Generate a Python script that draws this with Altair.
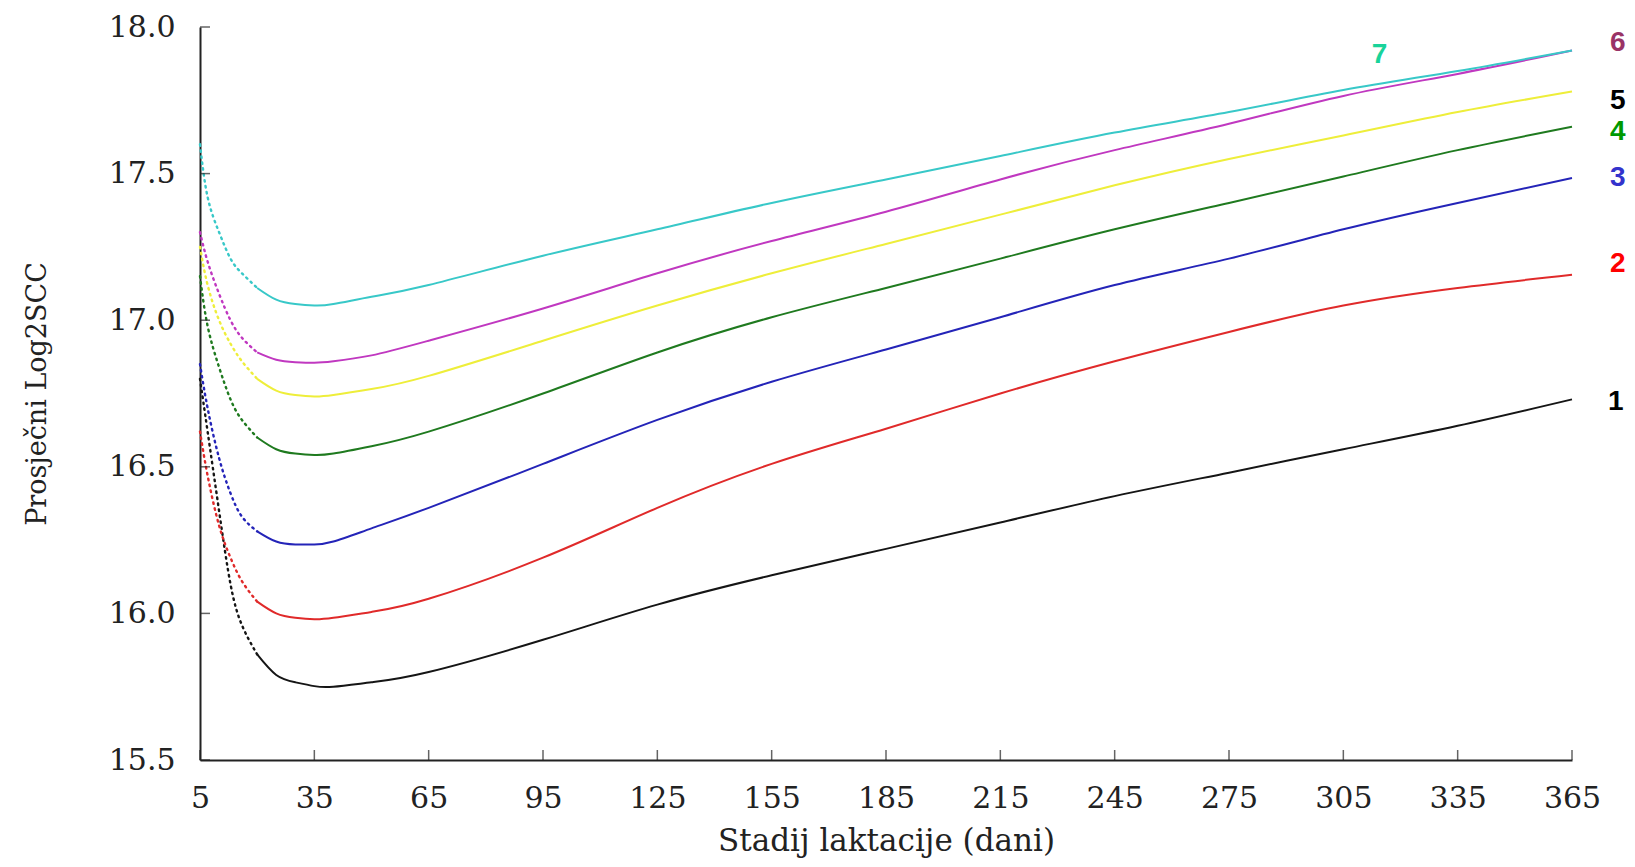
import altair as alt
import pandas as pd

# ---- data ----
days = [5, 7, 10, 13, 16, 20, 25, 30, 35, 40, 50, 65, 95, 125, 155, 185, 215, 245, 275, 305, 335, 365]

s1 = [16.80, 16.62, 16.35, 16.10, 15.96, 15.86, 15.79, 15.765, 15.752, 15.75, 15.765, 15.80, 15.91, 16.03, 16.13, 16.22, 16.31, 16.40, 16.48, 16.56, 16.64, 16.73]
s2 = [16.62, 16.47, 16.30, 16.19, 16.11, 16.04, 16.00, 15.985, 15.98, 15.985, 16.005, 16.05, 16.19, 16.36, 16.51, 16.63, 16.75, 16.86, 16.96, 17.05, 17.11, 17.155]
s3 = [16.85, 16.70, 16.53, 16.41, 16.33, 16.28, 16.245, 16.235, 16.235, 16.245, 16.29, 16.36, 16.51, 16.66, 16.79, 16.90, 17.01, 17.12, 17.21, 17.31, 17.40, 17.485]
s4 = [17.15, 16.98, 16.84, 16.73, 16.66, 16.60, 16.56, 16.545, 16.54, 16.545, 16.57, 16.62, 16.75, 16.89, 17.01, 17.11, 17.21, 17.31, 17.40, 17.49, 17.58, 17.66]
s5 = [17.25, 17.12, 17.00, 16.92, 16.86, 16.80, 16.76, 16.745, 16.74, 16.745, 16.765, 16.81, 16.93, 17.05, 17.16, 17.26, 17.36, 17.46, 17.55, 17.63, 17.71, 17.78]
s6 = [17.30, 17.20, 17.09, 17.00, 16.94, 16.89, 16.865, 16.857, 16.855, 16.86, 16.88, 16.93, 17.04, 17.16, 17.27, 17.37, 17.48, 17.58, 17.67, 17.765, 17.84, 17.92]
s7 = [17.60, 17.42, 17.30, 17.21, 17.16, 17.11, 17.07, 17.055, 17.05, 17.055, 17.08, 17.12, 17.22, 17.31, 17.40, 17.48, 17.56, 17.64, 17.71, 17.785, 17.85, 17.92]

series_names = ["1", "2", "3", "4", "5", "6", "7"]
series_values = [s1, s2, s3, s4, s5, s6, s7]

x_ticks = [5, 35, 65, 95, 125, 155, 185, 215, 245, 275, 305, 335, 365]
y_ticks = [15.5, 16.0, 16.5, 17.0, 17.5, 18.0]

label_text = ["6", "5", "4", "3", "2", "1", "7"]
label_day = [377, 377, 377, 377, 377, 376.5, 314.5]
label_val = [17.945, 17.748, 17.642, 17.485, 17.19, 16.72, 17.905]

# ---- styles ----
line_colors = ["#151515", "#e02a2a", "#2424b8", "#1f7a1f", "#eeee3a", "#c038c0", "#38c8c8"]
label_colors = ["#993366", "#000000", "#009900", "#3333cc", "#ff0000", "#000000", "#19d39a"]
SERIF = "DejaVu Serif"
TXT = "#222222"

rows = []
for name, vals in zip(series_names, series_values):
    for d, v in zip(days, vals):
        rows.append({"series": name, "day": d, "value": v})
df = pd.DataFrame(rows)
df_solid = df[df["day"] >= 20]
df_dot = df[df["day"] <= 20]

labels_df = pd.DataFrame({"label": label_text, "day": label_day, "value": label_val})
xt_df = pd.DataFrame({"day": x_ticks})
yt_df = pd.DataFrame({"value": y_ticks})

xscale = alt.Scale(domain=[5, 365], nice=False, zero=False)
yscale = alt.Scale(domain=[15.5, 18.0], nice=False, zero=False)
cscale = alt.Scale(domain=series_names, range=line_colors)

x_enc = alt.X("day:Q", scale=xscale, axis=alt.Axis(
    values=x_ticks, ticks=False, grid=False, domainColor=TXT, domainWidth=2,
    labelFont=SERIF, labelFontSize=30, labelColor=TXT, labelPadding=23, labelFlush=False,
    title="Stadij laktacije (dani)", titleFont=SERIF, titleFontSize=31,
    titleFontWeight="normal", titleColor=TXT, titlePadding=13))
y_enc = alt.Y("value:Q", scale=yscale, axis=alt.Axis(
    values=y_ticks, format=".1f", ticks=False, grid=False, domainColor=TXT, domainWidth=2,
    labelFont=SERIF, labelFontSize=30, labelColor=TXT, labelPadding=25,
    title="Prosječni Log2SCC", titleFont=SERIF, titleFontSize=27,
    titleFontWeight="normal", titleColor=TXT, titlePadding=57))

solid = alt.Chart(df_solid).mark_line(strokeWidth=2, interpolate="natural").encode(
    x=x_enc, y=y_enc,
    color=alt.Color("series:N", scale=cscale, legend=None),
    detail="series:N")

dotted = alt.Chart(df_dot).mark_line(strokeWidth=2.4, interpolate="natural",
                                     strokeDash=[1.5, 4.5], strokeCap="round").encode(
    x="day:Q", y="value:Q",
    color=alt.Color("series:N", scale=cscale, legend=None),
    detail="series:N")

xticks = alt.Chart(xt_df).mark_tick(orient="vertical", size=10, thickness=1.5,
                                    color=TXT, yOffset=-5).encode(
    x="day:Q", y=alt.datum(15.5))
yticks = alt.Chart(yt_df).mark_tick(orient="horizontal", size=10, thickness=1.5,
                                    color=TXT, xOffset=5).encode(
    y="value:Q", x=alt.datum(5))

labels = alt.Chart(labels_df).mark_text(font="Liberation Sans", fontWeight="bold",
                                        fontSize=28, align="center", baseline="middle").encode(
    x="day:Q", y="value:Q", text="label:N",
    color=alt.Color("label:N", scale=alt.Scale(domain=label_text, range=label_colors), legend=None))

chart = alt.layer(solid, dotted, xticks, yticks, labels).resolve_scale(
    color="independent"
).properties(
    width=1372, height=733,
    autosize=alt.AutoSizeParams(type="none"),
    padding={"left": 192, "top": 19, "right": 55, "bottom": 99},
    background="white",
).configure_view(stroke=None)

chart.save("out.html", embed_options={"renderer": "svg", "actions": False})
